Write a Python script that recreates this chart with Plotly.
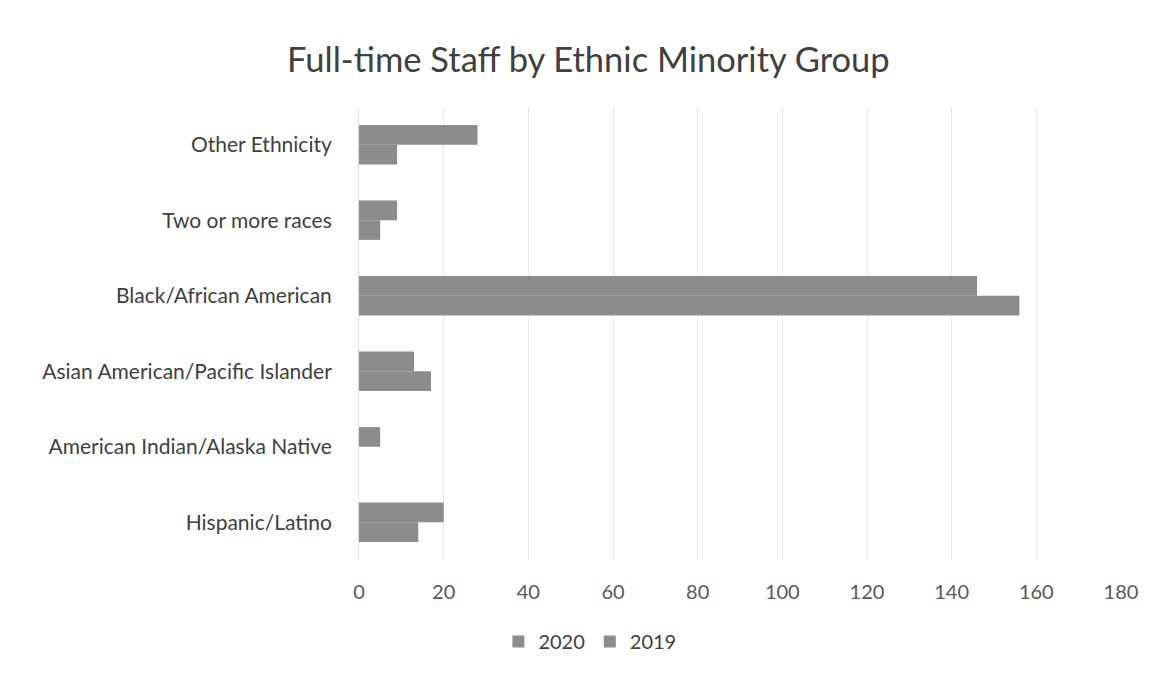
import plotly.graph_objects as go

categories = ["Hispanic/Latino", "American Indian/Alaska Native", "Asian American/Pacific Islander",
              "Black/African American", "Two or more races", "Other Ethnicity"]
values_2020 = [14, 0, 17, 156, 5, 9]
values_2019 = [20, 5, 13, 146, 9, 28]
x_ticks = [0, 20, 40, 60, 80, 100, 120, 140, 160, 180]

font_family = "Lato, 'Open Sans', sans-serif"
bar_color = "#8c8c8c"

fig = go.Figure()
fig.add_trace(go.Bar(y=categories, x=values_2020, name="2020", orientation="h",
                     marker=dict(color=bar_color, line=dict(width=0))))
fig.add_trace(go.Bar(y=categories, x=values_2019, name="2019", orientation="h",
                     marker=dict(color=bar_color, line=dict(width=0))))

fig.update_layout(
    width=1156, height=677,
    paper_bgcolor="white", plot_bgcolor="white",
    margin=dict(l=359, r=35, t=107, b=117),
    barmode="group", bargap=0.48, bargroupgap=0,
    title=dict(text="Full-time Staff by Ethnic Minority Group", x=0.509, xref="container",
               y=0.911, yref="container", xanchor="center", yanchor="middle",
               font=dict(family=font_family, size=34.5, color="#404040")),
    font=dict(family=font_family, color="#595959"),
    xaxis=dict(range=[0, 180], tickvals=x_ticks, showgrid=True, gridcolor="#e6e6e6",
               gridwidth=1, zeroline=False, showline=False,
               tickfont=dict(size=20, color="#595959"), ticks="", ticklabelstandoff=18),
    yaxis=dict(showgrid=False, zeroline=False, showline=True, linecolor="#e0e0e0",
               tickfont=dict(size=21, color="#404040"), ticks="", ticklabelstandoff=22),
    legend=dict(orientation="h", x=0.303, xanchor="center", y=-0.18, yanchor="middle",
                font=dict(size=20, color="#404040"), traceorder="normal",
                itemwidth=30),
    showlegend=True,
)

fig.write_html("out.html", config={"displayModeBar": False},
               post_script="document.body.style.margin='0px';")
